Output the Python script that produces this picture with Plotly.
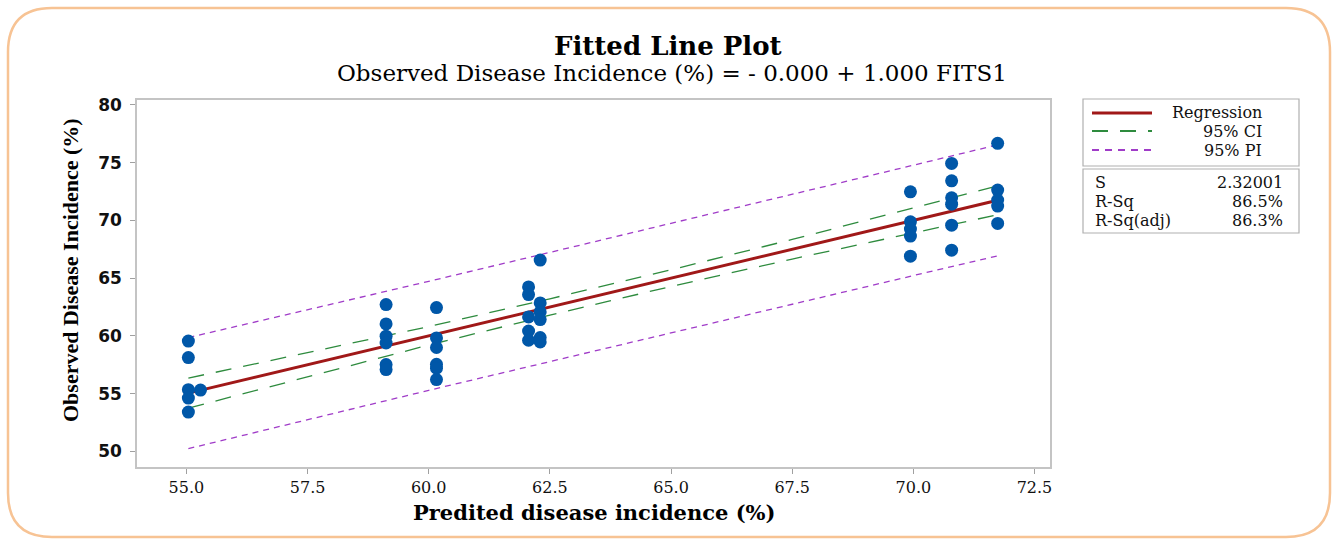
import plotly.graph_objects as go

# ---------------- data ----------------
pred_x = ([55.04] * 5 + [55.29] + [59.12] * 6 + [60.16] * 6 + [62.06] * 5 +
          [62.30] * 6 + [69.94] * 5 + [70.79] * 6 + [71.74] * 5)
obs_y = [59.55, 58.12, 55.34, 54.61, 53.40,
         55.30,
         62.71, 61.03, 59.97, 59.38, 57.51, 57.08,
         62.45, 59.82, 58.99, 57.54, 57.20, 56.21,
         64.24, 63.58, 61.64, 60.42, 59.62,
         66.56, 62.85, 62.07, 61.41, 59.85, 59.47,
         72.48, 69.88, 69.25, 68.64, 66.90,
         74.94, 73.43, 71.96, 71.41, 69.59, 67.42,
         76.68, 72.63, 71.76, 71.24, 69.74]

reg_x = [55.04, 71.74]
reg_y = [55.04, 71.74]

band_x = [55.04, 57.5, 60.0, 62.5, 65.0, 67.5, 70.0, 71.74]
ci_upper = [56.34, 58.52, 60.80, 63.21, 65.72, 68.35, 71.07, 72.99]
ci_lower = [53.74, 56.48, 59.20, 61.79, 64.28, 66.65, 68.93, 70.49]
pi_upper = [59.85, 62.25, 64.72, 67.23, 69.73, 72.25, 74.78, 76.55]
pi_lower = [50.23, 52.75, 55.28, 57.77, 60.27, 62.75, 65.22, 66.93]

x_ticks = [55.0, 57.5, 60.0, 62.5, 65.0, 67.5, 70.0, 72.5]
y_ticks = [50, 55, 60, 65, 70, 75, 80]

legend_labels = ["Regression", "95% CI", "95% PI"]
stat_names = ["S", "R-Sq", "R-Sq(adj)"]
stat_values = ["2.32001", "86.5%", "86.3%"]

title = "Fitted Line Plot"
subtitle = "Observed Disease Incidence (%) = - 0.000 + 1.000 FITS1"
x_title = "Predited disease incidence (%)"
y_title = "Observed Disease Incidence (%)"

# ---------------- style ----------------
W, H = 1333, 539
L, R, T, B = 137, 1050, 100, 467
RED = "#A01818"
GREEN = "#2E8B3E"
PURPLE = "#A03CC8"
BLUE = "#0057A8"
SERIF = "DejaVu Serif"


def px(x):
    return (x - L) / (R - L)


def py(y):
    return (B - y) / (B - T)


fig = go.Figure()
fig.add_trace(go.Scatter(x=band_x, y=pi_upper, mode="lines",
                         line=dict(color=PURPLE, width=1.3, dash="6px,5px"), showlegend=False))
fig.add_trace(go.Scatter(x=band_x, y=pi_lower, mode="lines",
                         line=dict(color=PURPLE, width=1.3, dash="6px,5px"), showlegend=False))
fig.add_trace(go.Scatter(x=band_x, y=ci_upper, mode="lines",
                         line=dict(color=GREEN, width=1.3, dash="16px,12px"), showlegend=False))
fig.add_trace(go.Scatter(x=band_x, y=ci_lower, mode="lines",
                         line=dict(color=GREEN, width=1.3, dash="16px,12px"), showlegend=False))
fig.add_trace(go.Scatter(x=reg_x, y=reg_y, mode="lines",
                         line=dict(color=RED, width=3), showlegend=False))
fig.add_trace(go.Scatter(x=pred_x, y=obs_y, mode="markers",
                         marker=dict(color=BLUE, size=13, line=dict(width=0)),
                         showlegend=False))

shapes = []
annotations = []

# rounded outer border
x0, y0, x1, y1, r = 8, 8, 1330, 537, 44
path = (f"M {px(x0 + r)},{py(y0)} L {px(x1 - r)},{py(y0)} "
        f"Q {px(x1)},{py(y0)} {px(x1)},{py(y0 + r)} "
        f"L {px(x1)},{py(y1 - r)} Q {px(x1)},{py(y1)} {px(x1 - r)},{py(y1)} "
        f"L {px(x0 + r)},{py(y1)} Q {px(x0)},{py(y1)} {px(x0)},{py(y1 - r)} "
        f"L {px(x0)},{py(y0 + r)} Q {px(x0)},{py(y0)} {px(x0 + r)},{py(y0)} Z")
shapes.append(dict(type="path", xref="paper", yref="paper", path=path,
                   line=dict(color="#F7C394", width=2.5), layer="below"))

# legend boxes
for (bx0, by0, bx1, by1) in [(1083, 99, 1299, 166), (1083, 169, 1299, 233)]:
    shapes.append(dict(type="rect", xref="paper", yref="paper",
                       x0=px(bx0), x1=px(bx1), y0=py(by1), y1=py(by0),
                       line=dict(color="#B0B0B0", width=1.2)))

leg_styles = [(RED, "solid", 3), (GREEN, "16px,12px", 1.8), (PURPLE, "7px,6px", 1.8)]
leg_y = [113, 131, 150]
for lbl, (c, d, w), yy in zip(legend_labels, leg_styles, leg_y):
    shapes.append(dict(type="line", xref="paper", yref="paper",
                       x0=px(1092), x1=px(1152), y0=py(yy), y1=py(yy),
                       line=dict(color=c, dash=d, width=w)))
    annotations.append(dict(x=px(1264), y=py(yy), xref="paper", yref="paper",
                            text=lbl, showarrow=False, xanchor="right", yanchor="middle",
                            font=dict(family=SERIF, size=16, color="#111")))

stat_y = [182, 201, 220]
for n, v, yy in zip(stat_names, stat_values, stat_y):
    annotations.append(dict(x=px(1093), y=py(yy), xref="paper", yref="paper",
                            text=n, showarrow=False, xanchor="left", yanchor="middle",
                            font=dict(family=SERIF, size=16, color="#111")))
    annotations.append(dict(x=px(1285), y=py(yy), xref="paper", yref="paper",
                            text=v, showarrow=False, xanchor="right", yanchor="middle",
                            font=dict(family=SERIF, size=16, color="#111")))

# titles
annotations.append(dict(x=px(668), y=py(46), xref="paper", yref="paper", text=f"<b>{title}</b>",
                        showarrow=False, xanchor="center", yanchor="middle",
                        font=dict(family=SERIF, size=26, color="#000")))
annotations.append(dict(x=px(672), y=py(73), xref="paper", yref="paper", text=subtitle,
                        showarrow=False, xanchor="center", yanchor="middle",
                        font=dict(family=SERIF, size=23, color="#000")))
annotations.append(dict(x=px(594), y=py(512), xref="paper", yref="paper", text=f"<b>{x_title}</b>",
                        showarrow=False, xanchor="center", yanchor="middle",
                        font=dict(family=SERIF, size=21, color="#000")))
annotations.append(dict(x=px(70), y=py(270), xref="paper", yref="paper", text=f"<b>{y_title}</b>",
                        showarrow=False, xanchor="center", yanchor="middle", textangle=-90,
                        font=dict(family="Liberation Serif", size=22, color="#000")))

fig.update_layout(
    width=W, height=H,
    margin=dict(l=L, r=W - R, t=T, b=H - B, pad=0),
    paper_bgcolor="white", plot_bgcolor="white",
    shapes=shapes, annotations=annotations,
    showlegend=False,
    xaxis=dict(range=[53.98, 72.82], tickvals=x_ticks, tickformat=".1f",
               showgrid=False, zeroline=False, showline=True, mirror=True,
               linecolor="#C4C4C4", linewidth=1.5, ticks="outside", ticklen=5,
               tickcolor="#A0A0A0", tickfont=dict(family=SERIF, size=16, color="#111")),
    yaxis=dict(range=[48.64, 80.43], tickvals=y_ticks, ticklabelstandoff=5,
               showgrid=False, zeroline=False, showline=True, mirror=True,
               linecolor="#C4C4C4", linewidth=1.5, ticks="outside", ticklen=5,
               tickcolor="#A0A0A0",
               tickfont=dict(family="DejaVu Sans", size=17, color="#111", weight="bold")),
)

fig.write_html("out.html")
